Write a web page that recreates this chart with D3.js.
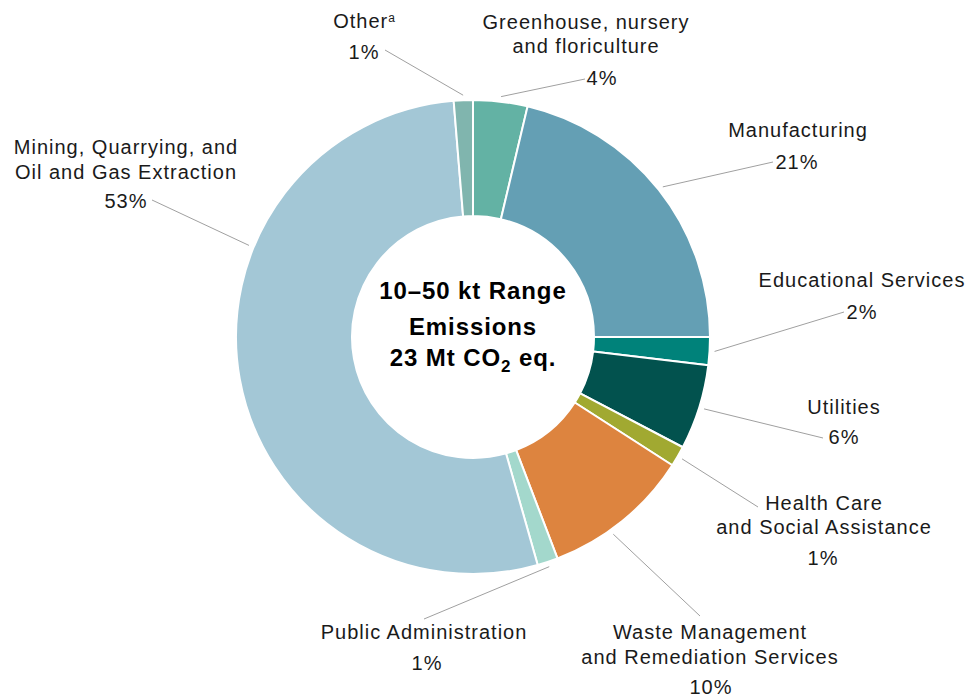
<!DOCTYPE html>
<html>
<head>
<meta charset="utf-8">
<script src="https://cdn.jsdelivr.net/npm/d3@7"></script>
<style>
  html, body { margin: 0; padding: 0; background: #fff; }
  svg { display: block; }
  .lbl { font-family: "Liberation Sans", Arial, sans-serif; font-size: 20px; fill: #1a1a1a; letter-spacing: 1px; }
  .center { font-family: "Liberation Sans", Arial, sans-serif; font-size: 24px; font-weight: bold; fill: #000; letter-spacing: 0.9px; }
</style>
</head>
<body>
<svg id="chart" width="969" height="696"></svg>
<script>
// Sector shares of 10–50 kt range emissions (percent), clockwise from 12 o'clock
const sectors = [
  "Greenhouse, nursery and floriculture",
  "Manufacturing",
  "Educational Services",
  "Utilities",
  "Health Care and Social Assistance",
  "Waste Management and Remediation Services",
  "Public Administration",
  "Mining, Quarrying, and Oil and Gas Extraction",
  "Other"
];
const shares = [3.7, 21.3, 1.9, 5.8, 1.4, 10.1, 1.4, 53.1, 1.3];
const sectorColors = ["#63b2a4", "#649fb4", "#00827a", "#02524e", "#a1a931", "#dd843f", "#a3d8cc", "#a3c7d6", "#80b5ae"];
const centerLines = ["10–50 kt Range", "Emissions", "23 Mt CO"];

// Label placement: text lines, anchor x, baselines, percent line, leader start, and
// where along the slice the leader meets the ring (fraction of the slice's angle)
const labelLayout = [
  { lines: ["Greenhouse, nursery", "and floriculture"], x: 586, y: [28.5, 53], px: 602, py: 84.5, lx: 585, ly: 79, at: 0.5 },
  { lines: ["Manufacturing"], x: 798, y: [137.3], px: 797, py: 168.5, lx: 773, ly: 162, at: 0.5 },
  { lines: ["Educational Services"], x: 862, y: [287.3], px: 862, py: 319, lx: 844, ly: 312, at: 0.5 },
  { lines: ["Utilities"], x: 844, y: [414], px: 844, py: 444, lx: 823, ly: 438, at: 0.5 },
  { lines: ["Health Care", "and Social Assistance"], x: 824, y: [510, 533.5], px: 823, py: 564.5, lx: 758, ly: 507, at: 0.5 },
  { lines: ["Waste Management", "and Remediation Services"], x: 710, y: [639, 663.5], px: 711, py: 693.5, lx: 700, ly: 616, at: 0.6 },
  { lines: ["Public Administration"], x: 424, y: [638.5], px: 427, py: 670, lx: 424, ly: 619, at: 0.5 },
  { lines: ["Mining, Quarrying, and", "Oil and Gas Extraction"], x: 126, y: [153.5, 178.5], px: 126, py: 208.3, lx: 152, ly: 200, at: 0.67 },
  { lines: ["Other"], sup: "a", x: 364, y: [27.5], px: 364, py: 58.5, lx: 385, ly: 50, at: 0.5 }
];

const svg = d3.select("#chart");
const cx = 473, cy = 337, outerR = 237, innerR = 121, leaderR = 242;

const data = sectors.map((name, i) => ({ name, value: shares[i], color: sectorColors[i], layout: labelLayout[i] }));

const pie = d3.pie().sort(null).value(d => d.value).startAngle(0).endAngle(2 * Math.PI);
const arc = d3.arc().innerRadius(innerR).outerRadius(outerR);
const arcs = pie(data);

const g = svg.append("g").attr("transform", `translate(${cx},${cy})`);

g.selectAll("path.slice")
  .data(arcs)
  .join("path")
  .attr("class", "slice")
  .attr("d", arc)
  .attr("fill", d => d.data.color)
  .attr("stroke", "#fff")
  .attr("stroke-width", 2)
  .attr("stroke-linejoin", "round");

// Leader lines from each label to the outside of its slice
const pct = d3.format(".0f");
arcs.forEach(a => {
  const L = a.data.layout;
  const ang = a.startAngle + (a.endAngle - a.startAngle) * L.at;
  const ex = cx + leaderR * Math.sin(ang);
  const ey = cy - leaderR * Math.cos(ang);
  svg.append("line")
    .attr("x1", L.lx).attr("y1", L.ly)
    .attr("x2", ex).attr("y2", ey)
    .attr("stroke", "#a0a0a0")
    .attr("stroke-width", 1);
});

// Sector names and percentages
arcs.forEach(a => {
  const L = a.data.layout;
  L.lines.forEach((line, j) => {
    const t = svg.append("text")
      .attr("class", "lbl")
      .attr("x", L.x)
      .attr("y", L.y[j])
      .attr("text-anchor", "middle");
    t.append("tspan").text(line);
    if (L.sup && j === L.lines.length - 1) {
      t.append("tspan")
        .attr("dy", -6)
        .attr("font-size", "12px")
        .attr("letter-spacing", "0px")
        .text(L.sup);
    }
  });
  svg.append("text")
    .attr("class", "lbl")
    .attr("x", L.px)
    .attr("y", L.py)
    .attr("text-anchor", "middle")
    .text(pct(a.data.value) + "%");
});

// Centre title
const centerY = [299, 334.5, 366];
centerLines.forEach((line, i) => {
  const t = svg.append("text")
    .attr("class", "center")
    .attr("x", cx)
    .attr("y", centerY[i])
    .attr("text-anchor", "middle");
  t.append("tspan").text(line);
  if (i === 2) {
    t.append("tspan").attr("dy", 5.5).attr("font-size", "17px").text("2");
    t.append("tspan").attr("dy", -5.5).text(" eq.");
  }
});
</script>
</body>
</html>
